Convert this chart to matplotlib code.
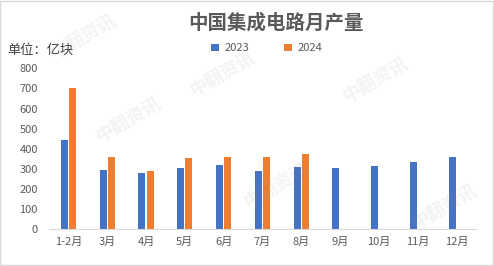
import matplotlib
matplotlib.use("Agg")
import matplotlib.pyplot as plt
import numpy as np

plt.rcParams['font.family'] = ['Noto Sans CJK SC', 'DejaVu Sans']

categories = ["1-2月", "3月", "4月", "5月", "6月", "7月", "8月", "9月", "10月", "11月", "12月"]
values_2023 = [443, 295, 279, 305, 319, 289, 309, 304, 314, 334, 358]
values_2024 = [702, 358, 289, 354, 358, 358, 373]
series_names = ["2023", "2024"]
yticks = [0, 100, 200, 300, 400, 500, 600, 700, 800]

blue = "#4472C4"
orange = "#ED7D31"
text_gray = "#595959"

fig = plt.figure(figsize=(4.94, 2.66), dpi=100)
ax = fig.add_axes([0.0992, 0.139, 0.864, 0.604])

x = np.arange(len(categories))
w = 0.18
off = 0.105
ax.bar(x[:len(values_2023)] - off, values_2023, width=w, color=blue, label=series_names[0], zorder=2)
ax.bar(x[:len(values_2024)] + off, values_2024, width=w, color=orange, label=series_names[1], zorder=2)

ax.set_xlim(-0.5, len(categories) - 0.5)
ax.set_ylim(0, 800)
ax.set_yticks(yticks)
ax.set_xticks(x)
ax.set_xticklabels(categories)
for s in ["top", "right", "left"]:
    ax.spines[s].set_visible(False)
ax.spines["bottom"].set_color("#d9d9d9")
ax.tick_params(axis="both", length=0, colors=text_gray, labelsize=8)
ax.tick_params(axis="x", pad=6)
ax.tick_params(axis="y", pad=8)

fig.text(0.558, 0.915, "中国集成电路月产量", ha="center", va="center",
         fontsize=14, fontweight="bold", color=text_gray)
fig.text(0.014, 0.81, "单位：亿块", ha="left", va="center", fontsize=9.5, color="#404040")

leg = fig.legend(loc="center", bbox_to_anchor=(0.54, 0.818), ncol=2, frameon=False,
                 fontsize=8, handlelength=0.7, handleheight=0.7, columnspacing=3.2,
                 handletextpad=0.5)
for t in leg.get_texts():
    t.set_color(text_gray)

# light watermarks (kept inside the figure)
wm = [(0.17, 0.86), (0.26, 0.55), (0.56, 0.30), (0.76, 0.70), (0.90, 0.22), (0.45, 0.72)]
for (wx, wy) in wm:
    fig.text(wx, wy, "中翻资讯", rotation=30, ha="center", va="center",
             fontsize=13, fontweight="bold", color="#9a9a9a", alpha=0.12, zorder=10)

border = plt.Rectangle((0.001, 0.002), 0.997, 0.995, transform=fig.transFigure,
                       fill=False, edgecolor="#d9d9d9", linewidth=1)
fig.add_artist(border)

fig.savefig("out.png", dpi=100)
